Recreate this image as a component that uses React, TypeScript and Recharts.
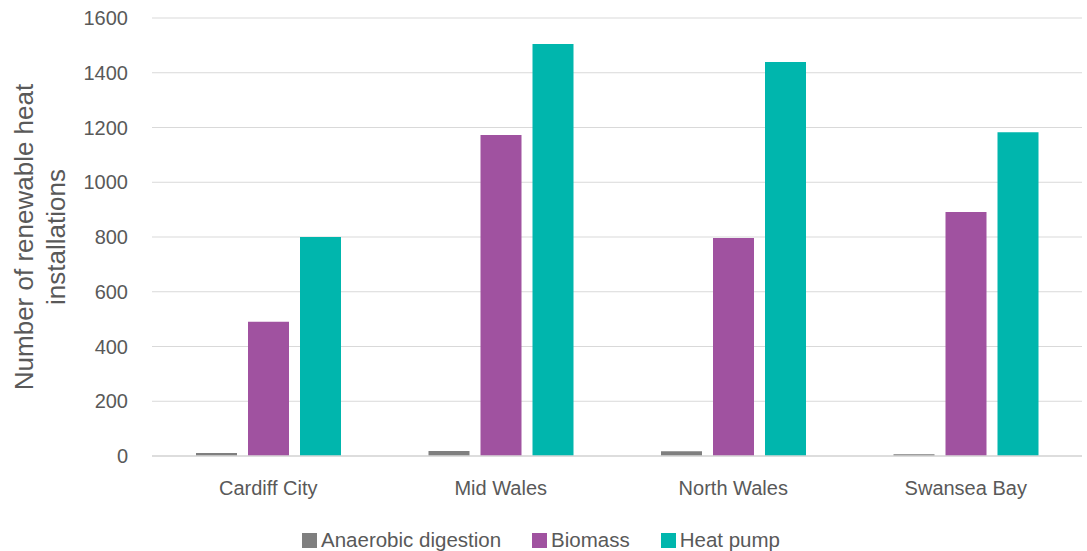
import React from 'react';
import { BarChart, Bar, XAxis, YAxis, CartesianGrid, Legend, Label } from 'recharts';

const categories = ['Cardiff City', 'Mid Wales', 'North Wales', 'Swansea Bay'];
const anaerobicDigestion = [11, 18, 17, 6];
const biomass = [490, 1173, 796, 891];
const heatPump = [800, 1505, 1439, 1183];
const yTicks = [0, 200, 400, 600, 800, 1000, 1200, 1400, 1600];

const seriesNames = ['Anaerobic digestion', 'Biomass', 'Heat pump'];
const seriesColors = ['#7f7f7f', '#a052a0', '#00b6ad'];

const data = categories.map((c, i) => ({
  name: c,
  ad: anaerobicDigestion[i],
  bio: biomass[i],
  hp: heatPump[i],
}));

const FONT = '"Liberation Sans", Arial, sans-serif';
const TEXT = '#595959';

const renderLegend = () => (
  <div
    style={{
      height: 30,
      boxSizing: 'border-box',
      paddingTop: 8,
      display: 'flex',
      justifyContent: 'center',
      alignItems: 'center',
      fontFamily: FONT,
      fontSize: 20.5,
      color: TEXT,
    }}
  >
    {seriesNames.map((n, i) => (
      <div key={n} style={{ display: 'flex', alignItems: 'center', marginRight: i < 2 ? 31 : 0, height: 22 }}>
        <div style={{ width: 15, height: 15, background: seriesColors[i], marginRight: 4 }} />
        <span style={{ lineHeight: '22px' }}>{n}</span>
      </div>
    ))}
  </div>
);

const renderYLabel = (props: any) => {
  const cy = 237;
  return (
    <g>
      <text
        x={24}
        y={cy}
        transform={`rotate(-90 24 ${cy})`}
        textAnchor="middle"
        dominantBaseline="central"
        fill={TEXT}
        fontFamily={FONT}
        fontSize={26}
      >
        Number of renewable heat
      </text>
      <text
        x={56}
        y={cy}
        transform={`rotate(-90 56 ${cy})`}
        textAnchor="middle"
        dominantBaseline="central"
        fill={TEXT}
        fontFamily={FONT}
        fontSize={26}
      >
        installations
      </text>
    </g>
  );
};

export default function App() {
  return (
    <div style={{ position: 'absolute', left: 0, top: 0, background: '#fff' }}>
      <BarChart
        width={1087}
        height={551}
        data={data}
        margin={{ top: 18, right: 5, left: 0, bottom: 0 }}
        barSize={41}
        barGap={11}
      >
        <CartesianGrid vertical={false} stroke="#d9d9d9" />
        <XAxis
          dataKey="name"
          height={65}
          tickLine={false}
          axisLine={{ stroke: '#d9d9d9', strokeWidth: 1.5 }}
          tickSize={0}
          tickMargin={25}
          tick={{ fill: TEXT, fontSize: 20, fontFamily: FONT }}
        />
        <YAxis
          width={152}
          domain={[0, 1600]}
          ticks={yTicks}
          tickLine={false}
          axisLine={false}
          tickSize={0}
          tickMargin={24}
          interval={0}
          tick={{ fill: TEXT, fontSize: 20, fontFamily: FONT }}
        >
          <Label content={renderYLabel} />
        </YAxis>
        <Legend verticalAlign="bottom" content={renderLegend} />
        <Bar dataKey="ad" name={seriesNames[0]} fill={seriesColors[0]} isAnimationActive={false} />
        <Bar dataKey="bio" name={seriesNames[1]} fill={seriesColors[1]} isAnimationActive={false} />
        <Bar dataKey="hp" name={seriesNames[2]} fill={seriesColors[2]} isAnimationActive={false} />
      </BarChart>
    </div>
  );
}
